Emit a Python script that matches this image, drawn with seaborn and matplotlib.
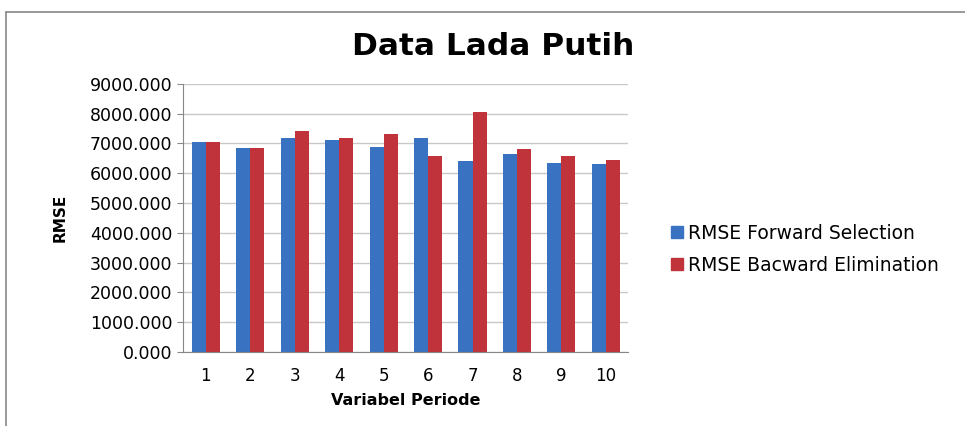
import pandas as pd
import matplotlib
matplotlib.use("Agg")
import matplotlib.pyplot as plt
import seaborn as sns
from matplotlib.lines import Line2D

periode = [1, 2, 3, 4, 5, 6, 7, 8, 9, 10]
forward = [7050, 6850, 7170, 7130, 6880, 7170, 6420, 6630, 6340, 6310]
backward = [7050, 6850, 7430, 7180, 7330, 6570, 8060, 6830, 6570, 6450]
series_names = ["RMSE Forward Selection", "RMSE Bacward Elimination"]
yticks = [0, 1000, 2000, 3000, 4000, 5000, 6000, 7000, 8000, 9000]

df = pd.DataFrame({
    "periode": periode * 2,
    "rmse": forward + backward,
    "seri": [series_names[0]] * len(periode) + [series_names[1]] * len(periode),
})

sns.set_style("white")
plt.rcParams["font.family"] = ["DejaVu Sans"]
plt.rcParams["text.color"] = "black"
plt.rcParams["axes.labelcolor"] = "black"
plt.rcParams["xtick.color"] = "black"
plt.rcParams["ytick.color"] = "black"

colors = ["#3A72C2", "#C1333A"]

fig = plt.figure(figsize=(9.65, 4.26), dpi=100)
ax = fig.add_axes([0.19, 0.174, 0.461, 0.629])

sns.barplot(data=df, x="periode", y="rmse", hue="seri",
            palette=colors, saturation=1, width=0.63, gap=0,
            edgecolor="none", ax=ax, legend=False)

ax.set_ylim(0, 9000)
ax.set_yticks(yticks)
ax.set_yticklabels([f"{v:.3f}" for v in yticks], fontsize=12.5)
ax.tick_params(axis="x", labelsize=12, length=0, pad=11)
ax.tick_params(axis="y", length=4, color="#888888", direction="out", left=True, pad=4)
ax.yaxis.grid(True, color="#c8c8c8", linewidth=1)
ax.set_axisbelow(True)
for s in ["top", "right"]:
    ax.spines[s].set_visible(False)
ax.spines["left"].set_color("#888888")
ax.spines["bottom"].set_color("#888888")
ax.set_xlim(-0.5, 9.5)

ax.set_xlabel("Variabel Periode", fontsize=11.5, fontweight="bold", labelpad=6)
ax.set_ylabel("RMSE", fontsize=11, fontweight="bold", labelpad=16,
              family=["Liberation Sans Narrow", "DejaVu Sans"])

fig.text(0.511, 0.892, "Data Lada Putih", ha="center", va="center",
         fontsize=22.5, fontweight="bold")

handles = [Line2D([], [], marker="s", linestyle="none", markersize=8,
                  markerfacecolor=c, markeredgecolor=c)
           for c in colors]
fig.legend(handles, series_names, loc="center left",
           bbox_to_anchor=(0.675, 0.415), frameon=False, fontsize=13.5,
           handletextpad=0.15, labelspacing=0.7, handlelength=0.9)

# outer chart frame
fig.add_artist(Line2D([0.006, 1.0], [0.972, 0.972], color="#888888", lw=1.2,
                      transform=fig.transFigure))
fig.add_artist(Line2D([0.006, 0.006], [0.0, 0.972], color="#888888", lw=1.2,
                      transform=fig.transFigure))

fig.savefig("out.png", dpi=100)
